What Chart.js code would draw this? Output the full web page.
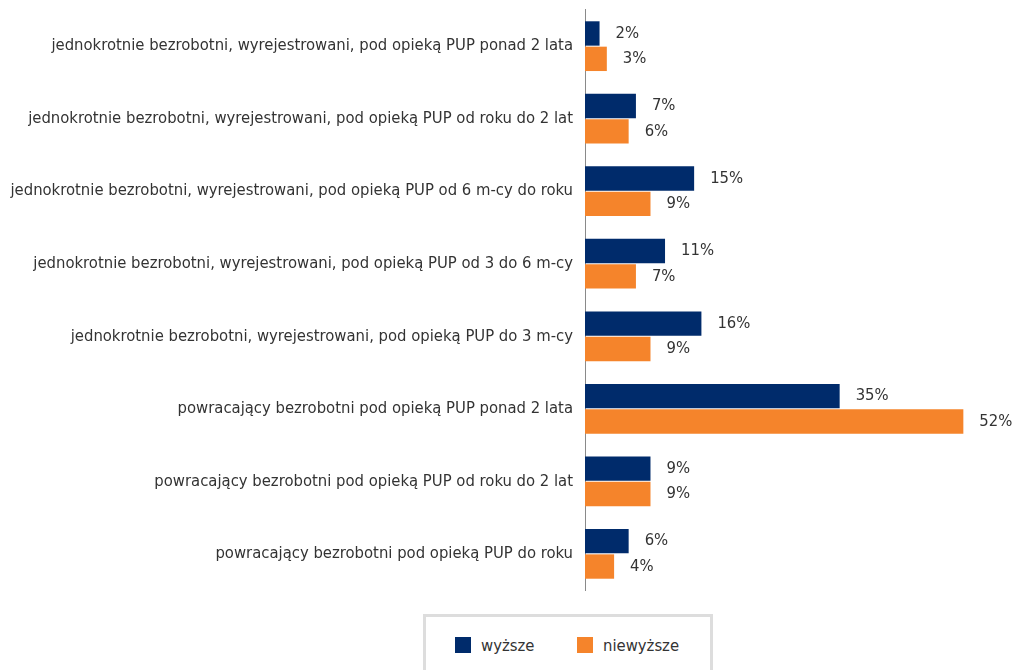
<!DOCTYPE html>
<html>
<head>
<meta charset="utf-8">
<script src="https://cdn.jsdelivr.net/npm/chart.js@4"></script>
<style>
  html, body { margin: 0; padding: 0; background: #fff; width: 1018px; height: 670px; overflow: hidden; }
  body { font-family: 'DejaVu Sans Condensed', 'Liberation Sans Narrow', sans-serif; color: #333; position: relative; }
  #wrap { position: absolute; left: 0; top: -12px; width: 1018px; height: 624px; }
  #legend { position: absolute; left: 423px; top: 614px; width: 284px; height: 60px; border: 3px solid #ddd; }
  .item { position: absolute; top: 20px; font-size: 16.5px; line-height: 18px; }
  .sw { display: inline-block; width: 16px; height: 16px; vertical-align: -2px; margin-right: 10px; }
</style>
</head>
<body>
<div id="wrap"><canvas id="chart"></canvas></div>
<div id="legend">
  <div class="item" style="left:29px;"><span class="sw" style="background:#002b6b"></span>wyższe</div>
  <div class="item" style="left:151px;"><span class="sw" style="background:#f5842b"></span>niewyższe</div>
</div>
<script>
const categories = [
  'jednokrotnie bezrobotni, wyrejestrowani, pod opieką PUP ponad 2 lata',
  'jednokrotnie bezrobotni, wyrejestrowani, pod opieką PUP od roku do 2 lat',
  'jednokrotnie bezrobotni, wyrejestrowani, pod opieką PUP od 6 m-cy do roku',
  'jednokrotnie bezrobotni, wyrejestrowani, pod opieką PUP od 3 do 6 m-cy',
  'jednokrotnie bezrobotni, wyrejestrowani, pod opieką PUP do 3 m-cy',
  'powracający bezrobotni pod opieką PUP ponad 2 lata',
  'powracający bezrobotni pod opieką PUP od roku do 2 lat',
  'powracający bezrobotni pod opieką PUP do roku'
];
const wyzsze    = [2, 7, 15, 11, 16, 35, 9, 6];
const niewyzsze = [3, 6, 9, 7, 9, 52, 9, 4];

const FONT = "'DejaVu Sans Condensed', 'Liberation Sans Narrow', sans-serif";

// value labels at the end of each bar
const valueLabels = {
  id: 'valueLabels',
  afterDatasetsDraw(chart) {
    const ctx = chart.ctx;
    ctx.save();
    ctx.font = '16.5px ' + FONT;
    ctx.fillStyle = '#333';
    ctx.textBaseline = 'middle';
    ctx.textAlign = 'left';
    chart.data.datasets.forEach((ds, i) => {
      chart.getDatasetMeta(i).data.forEach((bar, j) => {
        ctx.fillText(ds.data[j] + '%', bar.x + 16, bar.y);
      });
    });
    ctx.restore();
  }
};

new Chart(document.getElementById('chart'), {
  type: 'bar',
  data: {
    labels: categories,
    datasets: [
      { label: 'wyższe', data: wyzsze, backgroundColor: '#002b6b', barPercentage: 0.96, categoryPercentage: 0.7 },
      { label: 'niewyższe', data: niewyzsze, backgroundColor: '#f5842b', barPercentage: 0.96, categoryPercentage: 0.7 }
    ]
  },
  options: {
    indexAxis: 'y',
    responsive: true,
    maintainAspectRatio: false,
    animation: false,
    layout: { padding: { top: 0, bottom: 0, right: 11, left: 0 } },
    scales: {
      x: { display: false, min: 0, max: 58 },
      y: {
        grid: { display: false, drawTicks: false },
        border: { display: true, color: '#8a8a8a', width: 1 },
        ticks: { color: '#333', font: { family: FONT, size: 16.5 }, padding: 12 },
        afterFit(scale) { scale.width = 585; }
      }
    },
    plugins: { legend: { display: false }, tooltip: { enabled: false } }
  },
  plugins: [valueLabels]
});
</script>
</body>
</html>
